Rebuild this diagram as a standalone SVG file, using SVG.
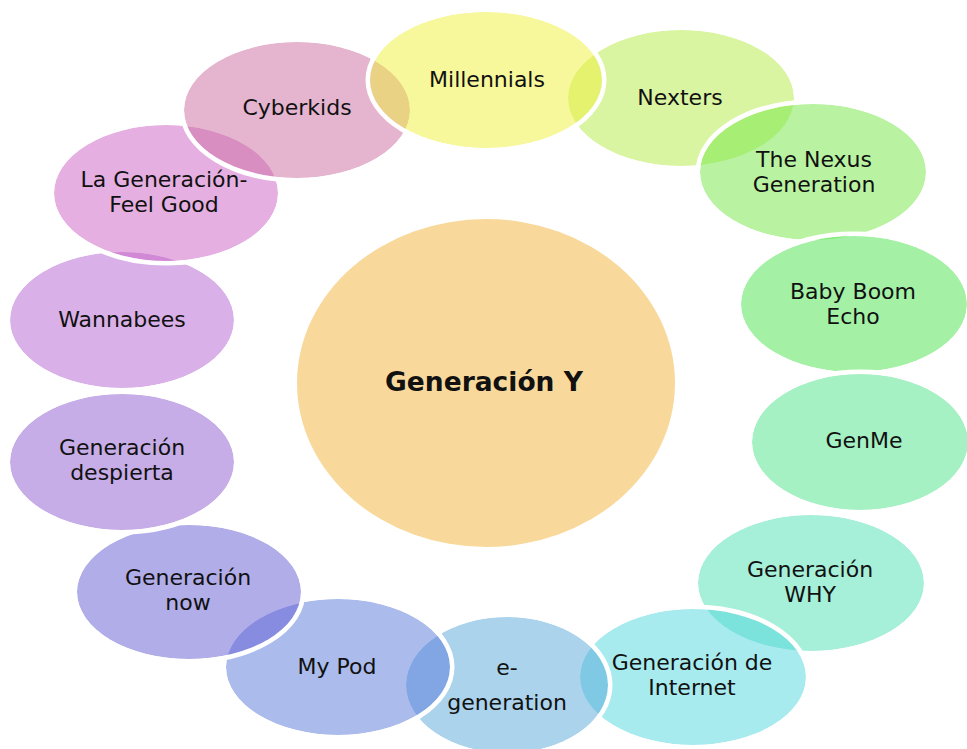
<svg xmlns="http://www.w3.org/2000/svg" width="967" height="749" viewBox="0 0 967 749">
  <style>
    .fill { fill-opacity: 0.5; stroke: none; }
    .rim { fill: none; stroke: #ffffff; stroke-width: 9; mask: url(#outside); }
    .lbl { font-family: "DejaVu Sans", "Liberation Sans", sans-serif; font-size: 22px; fill: #111111; text-anchor: middle; }
    .hub { font-family: "DejaVu Sans", "Liberation Sans", sans-serif; font-size: 26.5px; font-weight: bold; fill: #111111; text-anchor: middle; }
  </style>
  <defs>
    <!-- keeps a rim only on the outside of its own ellipse -->
    <mask id="outside" maskContentUnits="objectBoundingBox" x="-0.2" y="-0.2" width="1.4" height="1.4">
      <rect x="-0.2" y="-0.2" width="1.4" height="1.4" fill="#ffffff"/>
      <ellipse cx="0.5" cy="0.5" rx="0.5" ry="0.5" fill="#000000"/>
    </mask>
  </defs>
  <rect width="967" height="749" fill="#ffffff"/>

  <g id="hub">
    <ellipse cx="486" cy="383" rx="189" ry="164" fill="#F8D99B"/>
    <text class="hub" x="484" y="391">Generación Y</text>
  </g>

  <!-- outer ring, painted from bottom to top; half-transparent fills -->
  <g id="ring">
    <g id="nexters">
      <ellipse class="fill" cx="681" cy="98" rx="113" ry="68" fill="#B5EB45"/>
      <ellipse class="rim" cx="681" cy="98" rx="113" ry="68"/>
      <text class="lbl" x="680" y="105">Nexters</text>
    </g>
    <g id="nexus">
      <ellipse class="fill" cx="813" cy="172" rx="113" ry="68" fill="#73E745"/>
      <ellipse class="rim" cx="813" cy="172" rx="113" ry="68"/>
      <text class="lbl" x="814" y="167">The Nexus</text>
      <text class="lbl" x="814" y="192">Generation</text>
    </g>
    <g id="baby-boom-echo">
      <ellipse class="fill" cx="854" cy="304" rx="113" ry="68" fill="#49E34D"/>
      <ellipse class="rim" cx="854" cy="304" rx="113" ry="68"/>
      <text class="lbl" x="853" y="299">Baby Boom</text>
      <text class="lbl" x="853" y="324">Echo</text>
    </g>
    <g id="genme">
      <ellipse class="fill" cx="860" cy="442" rx="108" ry="68" fill="#4DE389"/>
      <ellipse class="rim" cx="860" cy="442" rx="108" ry="68"/>
      <text class="lbl" x="864" y="448">GenMe</text>
    </g>
    <g id="generacion-why">
      <ellipse class="fill" cx="811" cy="583" rx="113" ry="68" fill="#4DDFB3"/>
      <ellipse class="rim" cx="811" cy="583" rx="113" ry="68"/>
      <text class="lbl" x="810" y="577">Generación</text>
      <text class="lbl" x="810" y="602">WHY</text>
    </g>
    <g id="generacion-internet">
      <ellipse class="fill" cx="693" cy="677" rx="113" ry="68" fill="#51D7DF"/>
      <ellipse class="rim" cx="693" cy="677" rx="113" ry="68"/>
      <text class="lbl" x="692" y="670">Generación de</text>
      <text class="lbl" x="692" y="695">Internet</text>
    </g>
    <g id="e-generation">
      <ellipse class="fill" cx="507" cy="685" rx="101" ry="68" fill="#57A7D9"/>
      <ellipse class="rim" cx="507" cy="685" rx="101" ry="68"/>
      <text class="lbl" x="507" y="675">e-</text>
      <text class="lbl" x="507" y="710">generation</text>
    </g>
    <g id="my-pod">
      <ellipse class="fill" cx="338" cy="667" rx="112" ry="68" fill="#5779D9"/>
      <ellipse class="rim" cx="338" cy="667" rx="112" ry="68"/>
      <text class="lbl" x="337" y="674">My Pod</text>
    </g>
    <g id="generacion-now">
      <ellipse class="fill" cx="189" cy="592" rx="112" ry="67" fill="#635BD3"/>
      <ellipse class="rim" cx="189" cy="592" rx="112" ry="67"/>
      <text class="lbl" x="188" y="585">Generación</text>
      <text class="lbl" x="188" y="610">now</text>
    </g>
    <g id="generacion-despierta">
      <ellipse class="fill" cx="122" cy="462" rx="112" ry="68" fill="#8D5BCF"/>
      <ellipse class="rim" cx="122" cy="462" rx="112" ry="68"/>
      <text class="lbl" x="122" y="455">Generación</text>
      <text class="lbl" x="122" y="480">despierta</text>
    </g>
    <g id="wannabees">
      <ellipse class="fill" cx="122" cy="320" rx="112" ry="68" fill="#B361CF"/>
      <ellipse class="rim" cx="122" cy="320" rx="112" ry="68"/>
      <text class="lbl" x="122" y="327">Wannabees</text>
    </g>
    <g id="feel-good">
      <ellipse class="fill" cx="166" cy="193" rx="112" ry="68" fill="#CB61C3"/>
      <ellipse class="rim" cx="166" cy="193" rx="112" ry="68"/>
      <text class="lbl" x="164" y="187">La Generación-</text>
      <text class="lbl" x="164" y="212">Feel Good</text>
    </g>
    <g id="cyberkids">
      <ellipse class="fill" cx="297" cy="110" rx="113" ry="68" fill="#CB6B9F"/>
      <ellipse class="rim" cx="297" cy="110" rx="113" ry="68"/>
      <text class="lbl" x="297" y="115">Cyberkids</text>
    </g>
    <g id="millennials">
      <ellipse class="fill" cx="486" cy="80" rx="116" ry="68" fill="#EFEF39"/>
      <ellipse class="rim" cx="486" cy="80" rx="116" ry="68"/>
      <text class="lbl" x="487" y="87">Millennials</text>
    </g>
  </g>
</svg>
